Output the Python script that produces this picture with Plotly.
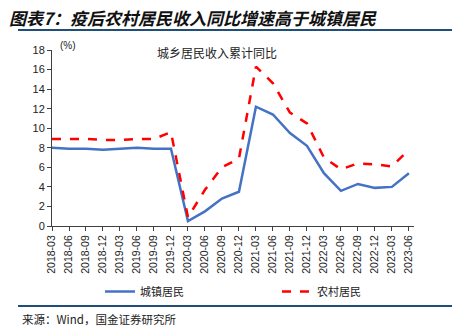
import plotly.graph_objects as go

quarters = ["2018-03", "2018-06", "2018-09", "2018-12", "2019-03", "2019-06", "2019-09", "2019-12",
            "2020-03", "2020-06", "2020-09", "2020-12", "2021-03", "2021-06", "2021-09", "2021-12",
            "2022-03", "2022-06", "2022-09", "2022-12", "2023-03", "2023-06"]
urban = [8.0, 7.9, 7.9, 7.8, 7.9, 8.0, 7.9, 7.9, 0.5, 1.5, 2.8, 3.5,
         12.2, 11.4, 9.5, 8.2, 5.4, 3.6, 4.3, 3.9, 4.0, 5.4]
rural = [8.9, 8.9, 8.9, 8.8, 8.8, 8.9, 8.9, 9.6, 0.9, 3.7, 6.0, 6.9,
         16.3, 14.6, 11.6, 10.5, 7.0, 5.8, 6.4, 6.3, 6.1, 7.8]
y_ticks = [0, 2, 4, 6, 8, 10, 12, 14, 16, 18]

W, H = 456, 328
L, R, T, B = 52, 414, 50, 226  # plot area in pixels

def px(x):
    return (x - L) / (R - L)

def py(y):
    return (B - y) / (B - T)

CJK = "Noto Sans CJK SC"
LAT = "Liberation Sans, Arial"

idx = list(range(len(quarters)))
fig = go.Figure()
fig.add_trace(go.Scatter(x=idx, y=urban, mode="lines", name="城镇居民",
                         line=dict(color="#4472C4", width=2.5), legend="legend"))
fig.add_trace(go.Scatter(x=idx, y=rural, mode="lines", name="农村居民",
                         line=dict(color="#FF0000", width=2.5, dash="dash"), legend="legend2"))

fig.update_layout(
    width=W, height=H,
    margin=dict(l=L, r=W - R, t=T, b=H - B),
    paper_bgcolor="white", plot_bgcolor="white",
    xaxis=dict(tickmode="array", tickvals=idx, ticktext=quarters, tickangle=-90,
               range=[0, 21.3], showgrid=False, zeroline=False,
               showline=True, linecolor="#404040", linewidth=1,
               ticks="outside", ticklen=4, tickcolor="#404040",
               tickfont=dict(family=LAT, size=10.5, color="#222")),
    yaxis=dict(range=[0, 18], tickvals=y_ticks, showgrid=False, zeroline=False,
               showline=True, linecolor="#404040", linewidth=1,
               ticks="outside", ticklen=4, tickcolor="#404040",
               tickfont=dict(family=LAT, size=11, color="#222")),
    legend=dict(x=px(100), y=py(277), xanchor="left", yanchor="top",
                bgcolor="rgba(0,0,0,0)", font=dict(family=CJK, size=11, color="#222"),
                itemwidth=30),
    legend2=dict(x=px(277), y=py(277), xanchor="left", yanchor="top",
                 bgcolor="rgba(0,0,0,0)", font=dict(family=CJK, size=11, color="#222"),
                 itemwidth=30),
    showlegend=True,
)

annotations = [
    dict(text="<b><i>图表7：疫后农村居民收入同比增速高于城镇居民</i></b>", x=px(7), y=py(17),
         xanchor="left", yanchor="middle", font=dict(family=CJK, size=17, color="#111")),
    dict(text="(%)", x=px(58), y=py(45), xanchor="left", yanchor="middle",
         font=dict(family=LAT, size=10, color="#222")),
    dict(text="城乡居民收入累计同比", x=px(217), y=py(52), xanchor="center", yanchor="middle",
         font=dict(family=CJK, size=12, color="#222")),
    dict(text="来源：Wind，国金证券研究所", x=px(20), y=py(319), xanchor="left", yanchor="middle",
         font=dict(family=CJK, size=11.5, color="#222")),
]
for a in annotations:
    a.update(xref="paper", yref="paper", showarrow=False)
fig.update_layout(annotations=annotations)

fig.update_layout(shapes=[
    dict(type="line", xref="paper", yref="paper", x0=px(18), x1=px(452), y0=py(30), y1=py(30),
         line=dict(color="#1F4E79", width=2)),
    dict(type="line", xref="paper", yref="paper", x0=px(18), x1=px(452), y0=py(306), y1=py(306),
         line=dict(color="#1F4E79", width=2)),
])

fig.write_html("out.html")
